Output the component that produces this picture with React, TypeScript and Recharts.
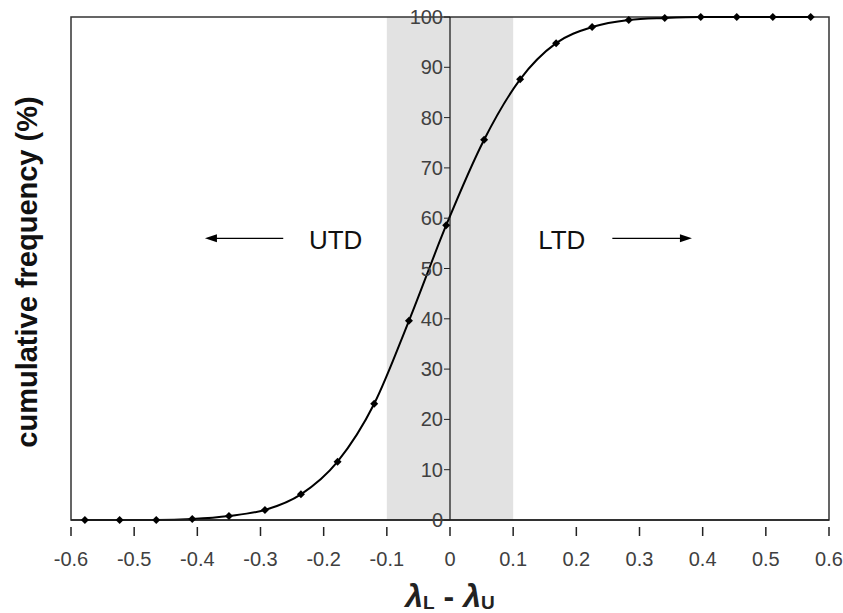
import {
  LineChart, Line, XAxis, YAxis, ReferenceArea, ReferenceLine,
} from "recharts";

const lambdaDiff = [
  -0.578, -0.523, -0.465, -0.408, -0.350, -0.293, -0.236, -0.178, -0.120, -0.065,
  -0.006, 0.054, 0.111, 0.168, 0.225, 0.283, 0.340, 0.397, 0.454, 0.511, 0.571,
];
const cumFreq = [
  0, 0, 0, 0.2, 0.8, 2.0, 5.1, 11.6, 23.1, 39.6,
  58.6, 75.6, 87.6, 94.8, 98.0, 99.4, 99.8, 100, 100, 100, 100,
];
const xTicks = [-0.6, -0.5, -0.4, -0.3, -0.2, -0.1, 0, 0.1, 0.2, 0.3, 0.4, 0.5, 0.6];
const yTicks = [0, 10, 20, 30, 40, 50, 60, 70, 80, 90, 100];
const band = [-0.1, 0.1];
const utdArrow = { from: -0.264, to: -0.388, y: 56, labelX: -0.181 };
const ltdArrow = { from: 0.257, to: 0.383, y: 56, labelX: 0.177 };

const data = lambdaDiff.map((x, i) => ({ x, y: cumFreq[i] }));

const W = 843;
const H = 613;
const M = { top: 17, right: 14, left: 70, bottom: 33 };
const PLOT_L = M.left + 1;
const PLOT_R = W - M.right;
const toPx = (v: number) => PLOT_L + ((v - -0.6) / 1.2) * (PLOT_R - PLOT_L);
const ZERO_X = toPx(0);
const FONT = "'Liberation Sans', Arial, sans-serif";
const TICK_COLOR = "#404040";

function Diamond(props: any) {
  const { cx, cy } = props;
  if (cx == null || cy == null) return null;
  const s = 4;
  return (
    <polygon
      points={`${cx},${cy - s} ${cx + s},${cy} ${cx},${cy + s} ${cx - s},${cy}`}
      fill="#000"
    />
  );
}

function XTick({ x, y, payload }: any) {
  return (
    <g>
      <line x1={x} x2={x} y1={y - 1} y2={y + 8} stroke="#222" strokeWidth={1.5} />
      <text x={x} y={y + 38} textAnchor="middle" fontSize={20} fill={TICK_COLOR} fontFamily={FONT}>
        {payload.value}
      </text>
    </g>
  );
}

// y ticks sit on the x = 0 line, not on the plot edge
function YTick({ y, payload }: any) {
  return (
    <g>
      <line x1={ZERO_X - 6} x2={ZERO_X} y1={y} y2={y} stroke="#222" strokeWidth={1} />
      <text x={ZERO_X - 7} y={y + 7} textAnchor="end" fontSize={20} fill={TICK_COLOR} fontFamily={FONT}>
        {payload.value}
      </text>
    </g>
  );
}

function Arrow(label: string, labelX: number) {
  return (props: any) => {
    const { x1, y1, x2, y2 } = props;
    const dir = x2 > x1 ? 1 : -1;
    return (
      <g>
        <line x1={x1} y1={y1} x2={x2 - dir * 8} y2={y2} stroke="#000" strokeWidth={1.3} />
        <polygon
          points={`${x2},${y2} ${x2 - dir * 12},${y2 - 4} ${x2 - dir * 12},${y2 + 4}`}
          fill="#000"
        />
        <text x={toPx(labelX)} y={y1 + 11} textAnchor="middle" fontSize={26} fill="#111" fontFamily={FONT}>
          {label}
        </text>
      </g>
    );
  };
}

function XTitle({ viewBox }: any) {
  const cx = viewBox.x + viewBox.width / 2;
  return (
    <text x={cx} y={607} textAnchor="middle" fontFamily={FONT} fontWeight="bold" fontSize={32} fill="#222">
      <tspan fontStyle="italic">λ</tspan>
      <tspan fontSize={19} dy={2}>L</tspan>
      <tspan dy={-2}> - </tspan>
      <tspan fontStyle="italic">λ</tspan>
      <tspan fontSize={19} dy={2}>U</tspan>
    </text>
  );
}

export default function App() {
  return (
    <div style={{ position: "absolute", left: 0, top: 0, width: W, height: H, background: "#fff" }}>
      <LineChart width={W} height={H} data={data} margin={M}>
        <ReferenceArea x1={band[0]} x2={band[1]} y1={0} y2={100} fill="#e2e2e2" fillOpacity={1} stroke="none" />
        <ReferenceArea x1={-0.6} x2={0.6} y1={0} y2={100} fill="none" stroke="#333" strokeWidth={1.5} />
        <ReferenceLine x={0} stroke="#111" strokeWidth={1.2} />
        <XAxis
          dataKey="x"
          type="number"
          domain={[-0.6, 0.6]}
          ticks={xTicks}
          tick={<XTick />}
          tickLine={false}
          axisLine={{ stroke: "#222", strokeWidth: 1.5 }}
          height={60}
          interval={0}
          allowDataOverflow
          label={<XTitle />}
        />
        <YAxis
          type="number"
          domain={[0, 100]}
          ticks={yTicks}
          tick={<YTick />}
          tickLine={false}
          axisLine={false}
          width={1}
          interval={0}
        />
        <ReferenceLine
          segment={[{ x: utdArrow.from, y: utdArrow.y }, { x: utdArrow.to, y: utdArrow.y }]}
          shape={Arrow("UTD", utdArrow.labelX)}
        />
        <ReferenceLine
          segment={[{ x: ltdArrow.from, y: ltdArrow.y }, { x: ltdArrow.to, y: ltdArrow.y }]}
          shape={Arrow("LTD", ltdArrow.labelX)}
        />
        <Line
          type="monotone"
          dataKey="y"
          stroke="#000"
          strokeWidth={2}
          dot={<Diamond />}
          activeDot={false}
          isAnimationActive={false}
        />
      </LineChart>
      <div
        style={{
          position: "absolute",
          left: 27,
          top: 272,
          transform: "translate(-50%, -50%) rotate(-90deg)",
          whiteSpace: "nowrap",
          fontFamily: FONT,
          fontWeight: "bold",
          fontSize: 29,
          color: "#111",
        }}
      >
        cumulative frequency (%)
      </div>
    </div>
  );
}
